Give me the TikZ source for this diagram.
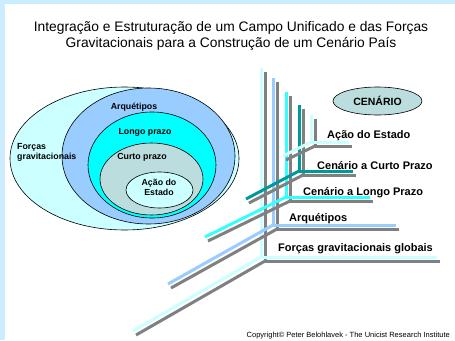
\documentclass[tikz,border=0pt]{standalone}
\usepackage{fontspec}
\setmainfont{Liberation Sans}
\usetikzlibrary{shapes.geometric, positioning}

\definecolor{bandblue}{HTML}{CCECFF}
\definecolor{palecyan}{HTML}{CCFFFF}
\definecolor{skyblue}{HTML}{99CCFF}
\definecolor{brightcyan}{HTML}{00FFFF}
\definecolor{linecyan}{HTML}{33FFFF}
\definecolor{darkteal}{HTML}{009999}
\definecolor{greyteal}{HTML}{BBDDDD}
\definecolor{shadowgrey}{HTML}{808080}

\begin{document}
\begin{tikzpicture}[
x=1pt, y=-1pt,
every node/.style={inner sep=0pt},
ring/.style={
ellipse,
draw=black,
line width=0.6pt,
inner sep=0pt
},
ringtext/.style={
font=\bfseries\fontsize{8.8}{10}\selectfont,
align=center
},
axislabel/.style={
anchor=west,
font=\bfseries\fontsize{11}{12}\selectfont
},
axis/.style={line width=3pt, line join=miter},
axisshadow/.style={axis, draw=shadowgrey}
]

% Background
\fill[white] (0,0) rectangle (455,340);
\fill[bandblue] (0,0) rectangle (455,4);
\fill[bandblue] (0,0) rectangle (5,340);
\useasboundingbox (0,0) rectangle (455,340);

% Title
\node[font=\fontsize{13.8}{15.5}\selectfont, align=center] (title) at (231,36)
{Integração e Estruturação de um Campo Unificado e das Forças\\
Gravitacionais para a Construção de um Cenário País};

% Nested fields
\node[ring, fill=palecyan, minimum width=229pt, minimum height=143pt] (gravity) at (124.5,158.5) {};
\node[ring, fill=skyblue, minimum width=173pt, minimum height=136pt] (archetypes) at (148.5,156) {};
\node[ring, fill=brightcyan, minimum width=128pt, minimum height=106pt] (longterm) at (152,165) {};
\node[ring, fill=greyteal, minimum width=103pt, minimum height=72pt] (shortterm) at (151.5,179) {};
\node[ring, fill=palecyan, minimum width=67pt, minimum height=36pt] (stateaction) at (159.5,190) {};

\node[ringtext, anchor=west, align=left] (gravitytext) at (17,152) {Forças\\gravitacionais};
\node[ringtext] (archetypestext) at (134,107) {Arquétipos};
\node[ringtext] (longtermtext) at (145,132) {Longo prazo};
\node[ringtext] (shorttermtext) at (142,157) {Curto prazo};
\node[ringtext] (stateactiontext) at (159,187) {Ação do\\Estado};

% Axes: vertical x / top / corner y / right end / diagonal end / colour
\foreach \vx/\vtop/\cy/\rx/\dx/\dy/\col in {
261/68/257/437/133/331/palecyan,
273/78/225/396/168/284/skyblue,
286/92/197/370/205/237/linecyan,
299/105/171/353/246/199/darkteal,
311/115/142/349/283/156/palecyan}
{
\draw[axisshadow] (\vx+4,\vtop+4) -- (\vx+4,\cy+4) -- (\rx+3,\cy+4);
\draw[axisshadow] (\vx+4,\cy+4) -- (\dx+3,\dy+4);
\draw[axis, draw=\col] (\vx,\vtop) -- (\vx,\cy) -- (\rx,\cy);
\draw[axis, draw=\col] (\vx,\cy) -- (\dx,\dy);
}

% Axis labels
\node[ring, fill=greyteal, minimum width=89pt, minimum height=28pt,
font=\bfseries\fontsize{10.5}{12}\selectfont] (scenario) at (377.5,101) {CENÁRIO};
\node[axislabel] (stateaxis) at (327,136) {Ação do Estado};
\node[axislabel] (shortaxis) at (317,166) {Cenário a Curto Prazo};
\node[axislabel] (longaxis) at (303,193) {Cenário a Longo Prazo};
\node[axislabel] (archaxis) at (289,219) {Arquétipos};
\node[axislabel] (gravityaxis) at (278,249) {Forças gravitacionais globais};

% Copyright
\node[anchor=east, font=\fontsize{7.5}{8}\selectfont] (copyright) at (450,336)
{Copyright© Peter Belohlavek - The Unicist Research Institute};

\end{tikzpicture}
\end{document}
